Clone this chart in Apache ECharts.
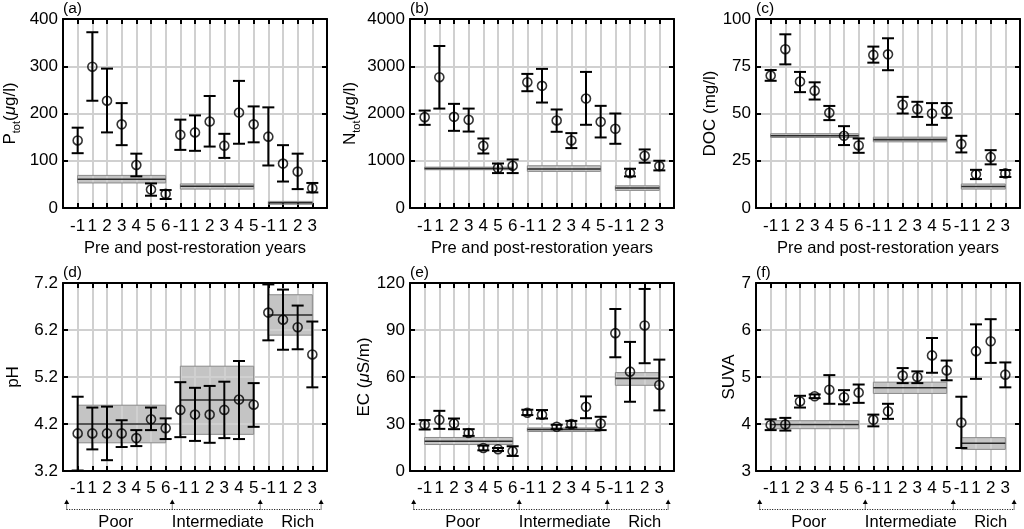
<!DOCTYPE html>
<html><head><meta charset="utf-8">
<script src="https://cdn.jsdelivr.net/npm/echarts@6/dist/echarts.min.js"></script>
<style>html,body{margin:0;padding:0;background:#fff}#c{width:1024px;height:529px}</style>
</head><body><div id="c"></div>
<script>
// ---------- data ----------
const xLabels = ['-1','1','2','3','4','5','6','-1','1','2','3','4','5','-1','1','2','3'];
const groupNames = ['Poor','Intermediate','Rich'];
const groupStart = [1, 8, 14];
const groupEnd = [7, 13, 17];
const groupArrowX = [0.25, 7.45, 13.45, 17.6];
const groupLabelX = [3.6, 10.55, 16.0];

const ptotMean = [143, 299, 227, 177, 91, 39, 30, 155, 160, 183, 132, 202, 177, 151, 94, 77, 42];
const ptotLo   = [116, 227, 160, 133, 67, 26, 19, 123, 121, 130, 106, 136, 139, 90, 56, 40, 33];
const ptotHi   = [170, 372, 295, 222, 115, 52, 38, 187, 196, 237, 157, 269, 215, 213, 133, 115, 53];
const ptotBandC = [61, 46, 11], ptotBandLo = [53, 40, 8], ptotBandHi = [69, 51, 14];

const ntotMean = [1923, 2768, 1929, 1867, 1316, 845, 894, 2662, 2585, 1852, 1430, 2317, 1824, 1676, 739, 1106, 887];
const ntotLo   = [1760, 2104, 1633, 1618, 1154, 739, 739, 2472, 2232, 1613, 1268, 1761, 1493, 1359, 669, 958, 796];
const ntotHi   = [2062, 3429, 2204, 2104, 1471, 942, 1027, 2838, 2944, 2085, 1585, 2880, 2162, 2000, 831, 1239, 1000];
const ntotBandC = [837, 824, 423], ntotBandLo = [810, 775, 373], ntotBandHi = [865, 894, 470];

const docMean = [70.1, 84, 66.9, 62.1, 50.4, 38.2, 33.1, 81, 81.3, 54.6, 52.3, 50, 51.6, 33.8, 17.8, 26.9, 18.3];
const docLo   = [67.3, 76, 61.3, 57.4, 46.5, 33.3, 29.2, 76.9, 72.9, 50, 48.2, 44, 47.7, 29.4, 15.3, 23.1, 16.4];
const docHi   = [73, 91.9, 72, 66.5, 54, 43.3, 36.8, 85.4, 89.8, 58.8, 56.2, 55.5, 55.5, 38.2, 20.2, 30.6, 20.1];
const docBandC = [38.2, 36.2, 11.4], docBandLo = [37.3, 35.0, 10.0], docBandHi = [39.3, 37.5, 12.7];

const phMean = [4.0, 4.0, 4.0, 4.0, 3.9, 4.3, 4.11, 4.5, 4.4, 4.4, 4.5, 4.72, 4.61, 6.57, 6.42, 6.26, 5.68];
const phLo   = [3.21, 3.66, 3.43, 3.71, 3.73, 4.07, 3.88, 3.92, 3.84, 3.80, 3.90, 3.88, 4.14, 5.98, 5.78, 5.79, 4.98];
const phHi   = [4.78, 4.55, 4.57, 4.28, 4.07, 4.55, 4.32, 5.09, 4.97, 5.01, 5.10, 5.54, 5.07, 7.17, 7.06, 6.72, 6.38];
const phBandC = [4.20, 4.71, 6.52], phBandLo = [3.80, 3.98, 6.09], phBandHi = [4.60, 5.43, 6.95];

const ecMean = [29.7, 32.7, 30.3, 24.3, 14.7, 13.9, 12.6, 37.2, 35.9, 28.2, 29.9, 41.0, 30.3, 88.0, 63.4, 92.9, 54.9];
const ecLo   = [26.5, 26.9, 26.7, 22.4, 13.2, 12.8, 9.6, 35.7, 33.5, 26.7, 27.8, 33.7, 26.1, 72.6, 44.2, 68.8, 38.7];
const ecHi   = [32.5, 38.4, 33.5, 26.7, 16.2, 14.7, 15.8, 39.1, 38.9, 29.5, 32.0, 47.6, 34.6, 103.4, 82.4, 116.2, 71.1];
const ecBandC = [19.0, 26.5, 59.1], ecBandLo = [16.9, 25.2, 54.7], ecBandHi = [21.4, 27.5, 62.8];

const suvaMean = [3.98, 3.99, 4.48, 4.59, 4.73, 4.57, 4.67, 4.09, 4.27, 5.03, 5.00, 5.46, 5.14, 4.03, 5.55, 5.76, 5.05];
const suvaLo   = [3.87, 3.86, 4.35, 4.55, 4.43, 4.42, 4.45, 3.95, 4.11, 4.87, 4.87, 5.09, 4.93, 3.49, 4.96, 5.30, 4.78];
const suvaHi   = [4.10, 4.13, 4.60, 4.63, 5.04, 4.72, 4.84, 4.20, 4.43, 5.19, 5.12, 5.83, 5.35, 4.58, 6.12, 6.23, 5.31];
const suvaBandC = [3.99, 4.77, 3.59], suvaBandLo = [3.90, 4.65, 3.46], suvaBandHi = [4.07, 4.89, 3.71];

// ---------- layout / styling ----------
const FONT = '"Liberation Sans", Arial, Helvetica, sans-serif';
const W = 264;
const panels = [
  {tag:'(a)', mean:ptotMean, lo:ptotLo, hi:ptotHi, bc:ptotBandC, bl:ptotBandLo, bh:ptotBandHi, yMin:0, yMax:400, yInt:100,
   name:'{n|P}{s|tot}{n|(}{m|μ}{n|g/l)}', nameGap:41, left:63, top:19, height:189, row:0},
  {tag:'(b)', mean:ntotMean, lo:ntotLo, hi:ntotHi, bc:ntotBandC, bl:ntotBandLo, bh:ntotBandHi, yMin:0, yMax:4000, yInt:1000,
   name:'{n|N}{s|tot}{n|(}{m|μ}{n|g/l)}', nameGap:48, left:410, top:19, height:189, row:0},
  {tag:'(c)', mean:docMean, lo:docLo, hi:docHi, bc:docBandC, bl:docBandLo, bh:docBandHi, yMin:0, yMax:100, yInt:25,
   name:'DOC (mg/l)', nameGap:33, left:756, top:19, height:189, row:0},
  {tag:'(d)', mean:phMean, lo:phLo, hi:phHi, bc:phBandC, bl:phBandLo, bh:phBandHi, yMin:3.2, yMax:7.2, yInt:1, fmt:1,
   name:'pH', nameGap:41, left:63, top:283, height:188, row:1},
  {tag:'(e)', mean:ecMean, lo:ecLo, hi:ecHi, bc:ecBandC, bl:ecBandLo, bh:ecBandHi, yMin:0, yMax:120, yInt:30,
   name:'{n|EC (}{m|μ}{n|S/m)}', nameGap:33, left:410, top:283, height:188, row:1},
  {tag:'(f)', mean:suvaMean, lo:suvaLo, hi:suvaHi, bc:suvaBandC, bl:suvaBandLo, bh:suvaBandHi, yMin:3, yMax:7, yInt:1,
   name:'SUVA', nameGap:18, left:756, top:283, height:188, row:1}
];

const nameRich = {
  n: {fontSize:17, fontFamily:FONT, color:'#000', lineHeight:24},
  m: {fontSize:17, fontFamily:FONT, color:'#000', lineHeight:24, fontStyle:'italic'},
  s: {fontSize:11, fontFamily:FONT, color:'#000', lineHeight:12, verticalAlign:'bottom'}
};

function ls(w, c){ return {stroke:c||'#000', lineWidth:w}; }

function errRender(params, api){
  const x = api.value(0);
  const pLo = api.coord([x, api.value(1)]);
  const pHi = api.coord([x, api.value(2)]);
  const w = 6;
  return {type:'group', children:[
    {type:'line', shape:{x1:pLo[0], y1:pLo[1], x2:pHi[0], y2:pHi[1]}, style:ls(2)},
    {type:'line', shape:{x1:pLo[0]-w, y1:pLo[1], x2:pLo[0]+w, y2:pLo[1]}, style:ls(2)},
    {type:'line', shape:{x1:pHi[0]-w, y1:pHi[1], x2:pHi[0]+w, y2:pHi[1]}, style:ls(2)}
  ]};
}
function bandFillRender(params, api){
  const p1 = api.coord([api.value(0), api.value(3)]);
  const p2 = api.coord([api.value(1), api.value(2)]);
  return {type:'rect', shape:{x:p1[0], y:p1[1], width:p2[0]-p1[0], height:p2[1]-p1[1]},
          style:{fill:'#c4c4c4'}};
}
function bandLineRender(params, api){
  const p1 = api.coord([api.value(0), api.value(3)]);
  const p2 = api.coord([api.value(1), api.value(2)]);
  const c1 = api.coord([api.value(0), api.value(4)]);
  const c2 = api.coord([api.value(1), api.value(4)]);
  return {type:'group', children:[
    {type:'rect', shape:{x:p1[0], y:p1[1], width:p2[0]-p1[0], height:p2[1]-p1[1]},
     style:{fill:'none', stroke:'#8a8a8a', lineWidth:1}},
    {type:'line', shape:{x1:c1[0], y1:c1[1], x2:c2[0], y2:c2[1]}, style:ls(1.6,'#2a2a2a')}
  ]};
}

const option = {animation:false, backgroundColor:'#fff', grid:[], xAxis:[], yAxis:[], series:[], title:[]};

panels.forEach((p, i) => {
  option.grid.push({left:p.left, top:p.top, width:W, height:p.height, containLabel:false});
  option.title.push({text:p.tag, left:p.left, top:p.top-18, padding:0,
    textStyle:{fontSize:15.5, fontWeight:'normal', fontFamily:FONT, color:'#000'}});
  const tickStyle = {show:true, inside:true, length:5, lineStyle:{color:'#000', width:2}};
  const lineStyle = {show:true, onZero:false, lineStyle:{color:'#000', width:2}};
  option.xAxis.push({
    gridIndex:i, type:'value', min:0, max:18, interval:1, position:'bottom',
    axisLine:lineStyle, axisTick:tickStyle,
    axisLabel:{show:true, margin:p.row===0 ? 10 : 9, fontSize:17, color:'#000', fontFamily:FONT,
      formatter: v => xLabels[Math.round(v)-1] || ''},
    splitLine:{show:true, lineStyle:{color:'#d0d0d0', width:2}},
    name: p.row===0 ? 'Pre and post-restoration years' : '', nameLocation:'middle', nameGap:32,
    nameTextStyle:{fontSize:16.5, color:'#000', fontFamily:FONT}
  });
  option.xAxis.push({
    gridIndex:i, type:'value', min:0, max:18, interval:1, position:'top',
    axisLine:lineStyle, axisTick:tickStyle, axisLabel:{show:false}, splitLine:{show:false}
  });
  option.yAxis.push({
    gridIndex:i, type:'value', min:p.yMin, max:p.yMax, interval:p.yInt, position:'left',
    axisLine:lineStyle, axisTick:tickStyle,
    axisLabel:{show:true, margin:5, fontSize:17, color:'#000', fontFamily:FONT,
      formatter: v => p.fmt ? v.toFixed(p.fmt) : String(Math.round(v*100)/100)},
    splitLine:{show:true, lineStyle:{color:'#d0d0d0', width:2}},
    name:p.name, nameLocation:'middle', nameGap:p.nameGap,
    nameTextStyle:{fontSize:17, color:'#000', fontFamily:FONT, rich:nameRich}
  });
  option.yAxis.push({
    gridIndex:i, type:'value', min:p.yMin, max:p.yMax, interval:p.yInt, position:'right',
    axisLine:lineStyle, axisTick:tickStyle, axisLabel:{show:false}, splitLine:{show:false}
  });
  const xi = 2*i, yi = 2*i;
  const bandData = groupStart.map((s, k) => [s, groupEnd[k], p.bl[k], p.bh[k], p.bc[k]]);
  option.series.push({type:'custom', xAxisIndex:xi, yAxisIndex:yi, z:-1, renderItem:bandFillRender, data:bandData, silent:true});
  option.series.push({type:'custom', xAxisIndex:xi, yAxisIndex:yi, z:3, renderItem:bandLineRender, data:bandData, silent:true});
  option.series.push({type:'custom', xAxisIndex:xi, yAxisIndex:yi, z:4, renderItem:errRender,
    data:p.mean.map((m, k) => [k+1, p.lo[k], p.hi[k]]), silent:true});
  option.series.push({type:'scatter', xAxisIndex:xi, yAxisIndex:yi, z:5, symbol:'circle', symbolSize:9,
    itemStyle:{color:'rgba(0,0,0,0)', borderColor:'#000', borderWidth:1.6},
    data:p.mean.map((m, k) => [k+1, m]), silent:true});

  if (p.row === 1) {
    const yMin = p.yMin;
    option.series.push({type:'custom', xAxisIndex:xi, yAxisIndex:yi, clip:false, silent:true,
      data:[[groupArrowX[0], groupArrowX[groupArrowX.length-1]]],
      renderItem:(params, api) => {
        const a = api.coord([api.value(0), yMin]);
        const b = api.coord([api.value(1), yMin]);
        return {type:'line', shape:{x1:a[0], y1:a[1]+38.5, x2:b[0], y2:b[1]+38.5},
          style:{stroke:'#000', lineWidth:1, lineDash:[1,1.5]}};
      }});
    option.series.push({type:'custom', xAxisIndex:xi, yAxisIndex:yi, clip:false, silent:true,
      data:groupArrowX.map(x => [x]),
      renderItem:(params, api) => {
        const a = api.coord([api.value(0), yMin]);
        const x = a[0], yb = a[1];
        return {type:'group', children:[
          {type:'line', shape:{x1:x, y1:yb+38.5, x2:x, y2:yb+32}, style:{stroke:'#000', lineWidth:1, lineDash:[1,1]}},
          {type:'polygon', shape:{points:[[x-2.5, yb+33], [x+2.5, yb+33], [x, yb+28.5]]}, style:{fill:'#000'}}
        ]};
      }});
    option.series.push({type:'custom', xAxisIndex:xi, yAxisIndex:yi, clip:false, silent:true,
      data:groupLabelX.map(x => [x]),
      renderItem:(params, api) => {
        const a = api.coord([api.value(0), yMin]);
        return {type:'text', x:a[0], y:a[1]+51,
          style:{text:groupNames[params.dataIndex], fontSize:16.5, fontFamily:FONT, fill:'#000',
                 align:'center', verticalAlign:'middle'}};
      }});
  }
});

const chart = echarts.init(document.getElementById('c'), null, {renderer:'canvas'});
chart.setOption(option);
</script>
</body></html>
